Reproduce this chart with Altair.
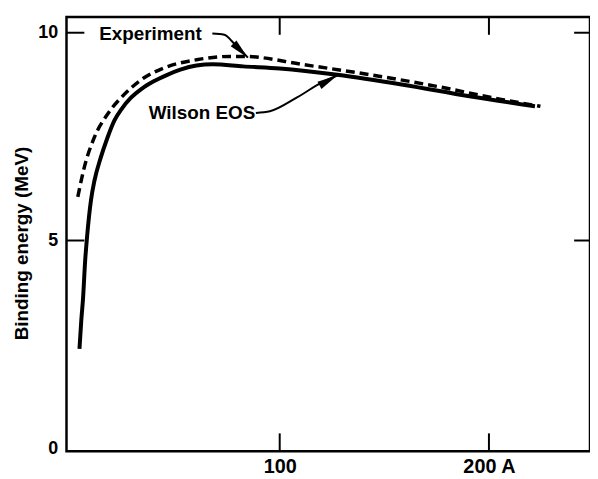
import altair as alt
import pandas as pd

# Wilson EOS (solid) curve: mass number A, binding energy per nucleon (MeV)
wilson_A = [4.3, 5.2, 6.0, 7.0, 8.0, 9.8, 11.5, 14.5, 17.5, 20.9, 24.5, 28.8, 34, 39.8, 46, 52.5, 60.2, 68, 82.5, 100, 127.5, 159, 190.7, 222]
wilson_BE = [2.39, 3.1, 3.6, 4.5, 5.13, 5.97, 6.45, 7.0, 7.45, 7.88, 8.17, 8.43, 8.65, 8.83, 8.98, 9.11, 9.21, 9.24, 9.19, 9.14, 8.99, 8.75, 8.47, 8.23]

# Experiment (dashed) curve
exp_A = [3.5, 6.6, 11.4, 17.7, 25.6, 35, 44.5, 60.3, 76, 83, 111.7, 143, 175, 206.5, 224.6]
exp_BE = [6.05, 6.76, 7.48, 8.04, 8.51, 8.91, 9.15, 9.35, 9.43, 9.43, 9.23, 8.99, 8.71, 8.39, 8.23]

# axis ticks
x_ticks = [100, 200]
y_ticks = [5, 10]
y_labels = [0, 5, 10]

# annotations
label_text = ["Experiment", "Wilson EOS"]
label_A = [13.7, 37.4]
label_BE = [9.83, 7.92]

exp_arrow_A = [67.8, 73.5, 78.2, 84.8]
exp_arrow_BE = [9.98, 9.95, 9.74, 9.40]
wil_arrow_A = [88.6, 95.3, 108.5, 120.4, 127.5]
wil_arrow_BE = [8.07, 8.11, 8.45, 8.81, 8.97]
head_A = [84.8, 127.5]
head_BE = [9.40, 8.97]
head_angle = [135, 61]

W, H = 528, 438
FONT = "Liberation Sans"

xs = alt.Scale(domain=[-1.9, 248.3], nice=False, zero=False)
ys = alt.Scale(domain=[-0.07, 10.38], nice=False, zero=False)

xaxis = alt.Axis(
    values=x_ticks, ticks=False, domain=False, grid=False, title=None,
    labelFont=FONT, labelFontWeight="bold", labelFontSize=20, labelColor="black",
    labelPadding=5, labelExpr="datum.value == 200 ? '200 A' : datum.label")
yaxis = alt.Axis(
    values=y_labels, ticks=False, domain=False, grid=False,
    title="Binding energy (MeV)", titleFont=FONT, titleFontWeight="bold", titleFontSize=19,
    titleColor="black", titleAngle=270, titleX=-45, titleY=228, titleAlign="center",
    titleBaseline="middle",
    labelFont=FONT, labelFontWeight="bold", labelFontSize=18, labelColor="black",
    labelPadding=9)


def X():
    return alt.X("A:Q", scale=xs, axis=xaxis)


def Y():
    return alt.Y("BE:Q", scale=ys, axis=yaxis)


wil = pd.DataFrame({"A": wilson_A, "BE": wilson_BE})
exp = pd.DataFrame({"A": exp_A, "BE": exp_BE})

solid = alt.Chart(wil).mark_line(color="black", strokeWidth=4, interpolate="monotone").encode(
    x=X(), y=Y(), order="A:Q")

dashed = alt.Chart(exp).mark_line(color="black", strokeWidth=3.5, strokeDash=[9, 5],
                                  interpolate="monotone").encode(x=X(), y=Y(), order="A:Q")

xt = pd.DataFrame({"A": x_ticks})
yt = pd.DataFrame({"BE": y_ticks})
tick_bottom = alt.Chart(xt).mark_rule(color="black", strokeWidth=2).encode(
    x=X(), y=alt.value(H - 18), y2=alt.value(H))
tick_top = alt.Chart(xt).mark_rule(color="black", strokeWidth=2).encode(
    x=X(), y=alt.value(0), y2=alt.value(18))
tick_left = alt.Chart(yt).mark_rule(color="black", strokeWidth=2).encode(
    y=Y(), x=alt.value(0), x2=alt.value(18))
tick_right = alt.Chart(yt).mark_rule(color="black", strokeWidth=2).encode(
    y=Y(), x=alt.value(W - 16), x2=alt.value(W))

labels = alt.Chart(pd.DataFrame({"t": label_text, "A": label_A, "BE": label_BE})).mark_text(
    font=FONT, fontWeight="bold", fontSize=19, align="left", baseline="alphabetic", color="black"
).encode(x=X(), y=Y(), text="t:N")

arr1 = alt.Chart(pd.DataFrame({"A": exp_arrow_A, "BE": exp_arrow_BE})).mark_line(
    color="black", strokeWidth=2, interpolate="monotone").encode(x=X(), y=Y(), order="A:Q")
arr2 = alt.Chart(pd.DataFrame({"A": wil_arrow_A, "BE": wil_arrow_BE})).mark_line(
    color="black", strokeWidth=2, interpolate="monotone").encode(x=X(), y=Y(), order="A:Q")
heads = alt.Chart(pd.DataFrame({"A": head_A, "BE": head_BE, "ang": head_angle})).mark_point(
    shape="M0,0L0.4,2L-0.4,2Z", filled=True, color="black", opacity=1, size=420, strokeWidth=0
).encode(x=X(), y=Y(), angle=alt.Angle("ang:Q", scale=None))

chart = alt.layer(
    solid, dashed, tick_bottom, tick_top, tick_left, tick_right, labels, arr1, arr2, heads
).properties(
    width=W, height=H,
    padding={"left": 59, "top": 7, "right": 0, "bottom": 24},
    autosize=alt.AutoSizeParams(type="none"),
    background="white",
).configure_view(stroke="black", strokeWidth=2.5)

chart.save("out.html", embed_options={"renderer": "svg", "actions": False})
